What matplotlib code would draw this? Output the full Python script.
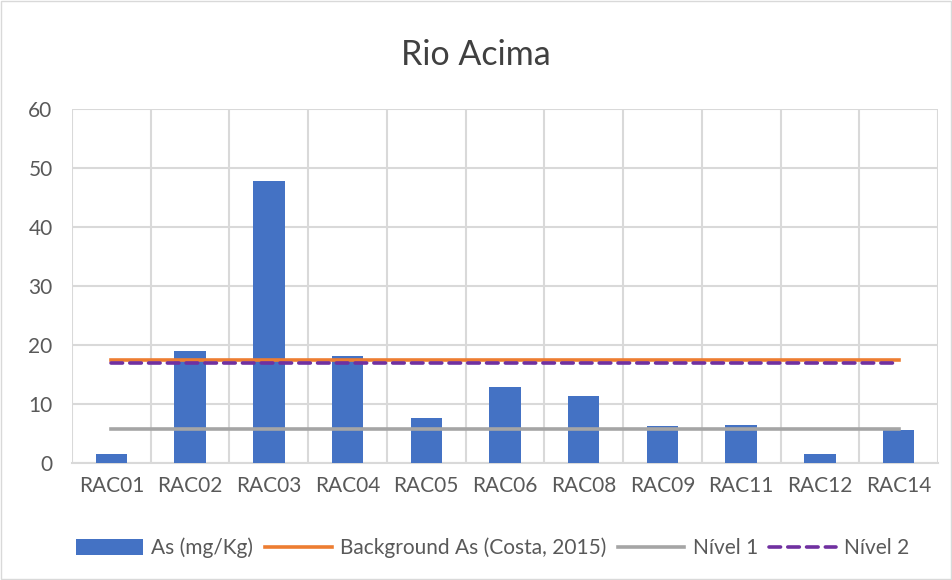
import matplotlib
matplotlib.use("Agg")
from matplotlib import pyplot as plt
from matplotlib.patches import Rectangle
import numpy as np

plt.rcParams['font.family'] = ['Lato', 'DejaVu Sans']

stations = ['RAC01', 'RAC02', 'RAC03', 'RAC04', 'RAC05', 'RAC06',
            'RAC08', 'RAC09', 'RAC11', 'RAC12', 'RAC14']
arsenic = [1.5, 18.9, 47.8, 18.2, 7.6, 12.8, 11.4, 6.3, 6.5, 1.5, 5.6]
background = 17.5
nivel1 = 5.8
nivel2 = 17.0

fig = plt.figure(figsize=(9.52, 5.8), dpi=100)
ax = fig.add_axes([72/952, 1 - 463/580, (938-72)/952, (463-109)/580])

xs = np.arange(len(stations))
bars = ax.bar(xs, arsenic, width=0.4, color='#4472C4', label='As (mg/Kg)', zorder=3)
l1, = ax.plot(xs, [background]*len(xs), color='#ED7D31', lw=2.6,
              label='Background As (Costa, 2015)', zorder=4)
l2, = ax.plot(xs, [nivel1]*len(xs), color='#A5A5A5', lw=2.6, label='Nível 1', zorder=4)
l3, = ax.plot(xs, [nivel2]*len(xs), color='#7030A0', lw=2.6, ls=(0, (3.2, 2.0)),
              dash_capstyle='round', label='Nível 2', zorder=4)

ax.set_xlim(-0.5, len(xs) - 0.5)
ax.set_ylim(0, 60)
ax.set_yticks(range(0, 61, 10))
ax.set_xticks(xs)
ax.set_xticklabels(stations)
ax.set_xticks(np.arange(-0.5, len(xs), 1), minor=True)
ax.grid(axis='y', color='#D9D9D9', lw=1.5, zorder=0)
ax.grid(axis='x', which='minor', color='#D9D9D9', lw=1.5, zorder=0)
ax.tick_params(axis='both', which='both', length=0, labelsize=15,
               colors='#595959')
ax.tick_params(axis='x', pad=9)
ax.tick_params(axis='y', pad=14)
for side in ['top', 'right', 'left']:
    ax.spines[side].set_visible(False)
ax.spines['bottom'].set_color('#D9D9D9')
ax.spines['bottom'].set_linewidth(1.5)

fig.text(0.5, 1 - 55/580, 'Rio Acima', ha='center', va='center',
         fontsize=24.5, color='#404040')

fig.legend([bars, l1, l2, l3],
           ['As (mg/Kg)', 'Background As (Costa, 2015)', 'Nível 1', 'Nível 2'],
           loc='center', bbox_to_anchor=(493/952, 1 - 548/580), ncol=4,
           frameon=False, fontsize=15, labelcolor='#595959',
           handlelength=3.2, handleheight=0.8, handletextpad=0.4, columnspacing=0.55)

fig.patches.append(Rectangle((1/952, 1/580), 950/952, 578/580, transform=fig.transFigure,
                             fill=False, edgecolor='#D9D9D9', lw=1))

fig.savefig('out.png', dpi=100)
